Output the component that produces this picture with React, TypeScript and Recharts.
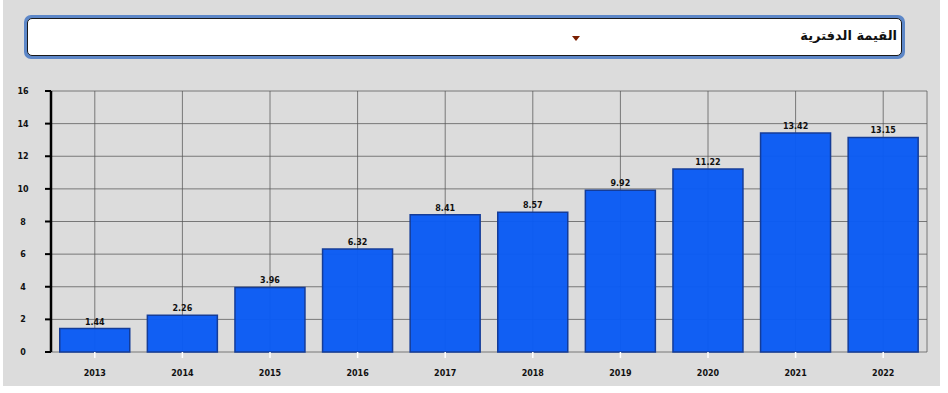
import React from 'react';
// npm
import { BarChart, Bar, XAxis, YAxis, CartesianGrid, LabelList } from 'recharts';

const years = ['2013', '2014', '2015', '2016', '2017', '2018', '2019', '2020', '2021', '2022'];
const bookValue = [1.44, 2.26, 3.96, 6.32, 8.41, 8.57, 9.92, 11.22, 13.42, 13.15];
const yTicks = [0, 2, 4, 6, 8, 10, 12, 14, 16];
const title = 'القيمة الدفترية';

const YTick = ({ y, payload }: any) => (
  <text x={23} y={y} dy={3} textAnchor="middle" fontSize={8} fontWeight="bold" fill="#111">
    {payload.value}
  </text>
);

const App = () => {
  const data = years.map((year, i) => ({ year, value: bookValue[i] }));

  return (
    <div style={{ position: 'relative', width: 948, height: 393, background: '#fff', fontFamily: '"DejaVu Sans", sans-serif' }}>
      <style>{'body{margin:0}'}</style>
      <div style={{ position: 'absolute', left: 3, top: 0, width: 937, height: 386, background: '#dcdcdc' }} />

      {/* dropdown box */}
      <div
        style={{
          position: 'absolute',
          left: 24,
          top: 15,
          width: 881,
          height: 44,
          boxSizing: 'border-box',
          background: '#5d87c8',
          borderRadius: 7,
          padding: 3,
        }}
      >
        <div
          style={{
            position: 'relative',
            width: '100%',
            height: '100%',
            boxSizing: 'border-box',
            background: '#fff',
            border: '1.5px solid #1a1a1a',
            borderRadius: 5,
          }}
        >
          <span
            dir="rtl"
            style={{ position: 'absolute', right: 4, top: 9, fontSize: 13, fontWeight: 'bold', color: '#111' }}
          >
            {title}
          </span>
          <span
            style={{
              position: 'absolute',
              left: 544,
              top: 17,
              width: 0,
              height: 0,
              borderLeft: '4px solid transparent',
              borderRight: '4px solid transparent',
              borderTop: '5px solid #7a1e00',
            }}
          />
        </div>
      </div>

      <div style={{ position: 'absolute', left: 0, top: 0 }}>
        <BarChart
          width={948}
          height={393}
          data={data}
          margin={{ top: 91, right: 21, bottom: 11, left: 10 }}
          barCategoryGap="10%"
        >
          <CartesianGrid stroke="#555" strokeOpacity={0.75} />
          <XAxis
            dataKey="year"
            height={30}
            axisLine={false}
            tickLine={{ stroke: '#fff', strokeWidth: 1.5 }}
            tickSize={6}
            tickMargin={12}
            tick={{ fontSize: 8, fontWeight: 'bold', fill: '#111' }}
          />
          <YAxis
            width={41}
            domain={[0, 16]}
            ticks={yTicks}
            interval={0}
            axisLine={{ stroke: '#000', strokeWidth: 2.5 }}
            tickLine={{ stroke: '#000', strokeWidth: 2 }}
            tickSize={6}
            tick={<YTick />}
          />
          <Bar
            dataKey="value"
            fill="#0a5bf4"
            fillOpacity={0.97}
            stroke="#143c98"
            strokeWidth={1.5}
            isAnimationActive={false}
          >
            <LabelList dataKey="value" position="top" offset={4} fontSize={8} fontWeight="bold" fill="#111" />
          </Bar>
        </BarChart>
      </div>
    </div>
  );
};

export default App;
